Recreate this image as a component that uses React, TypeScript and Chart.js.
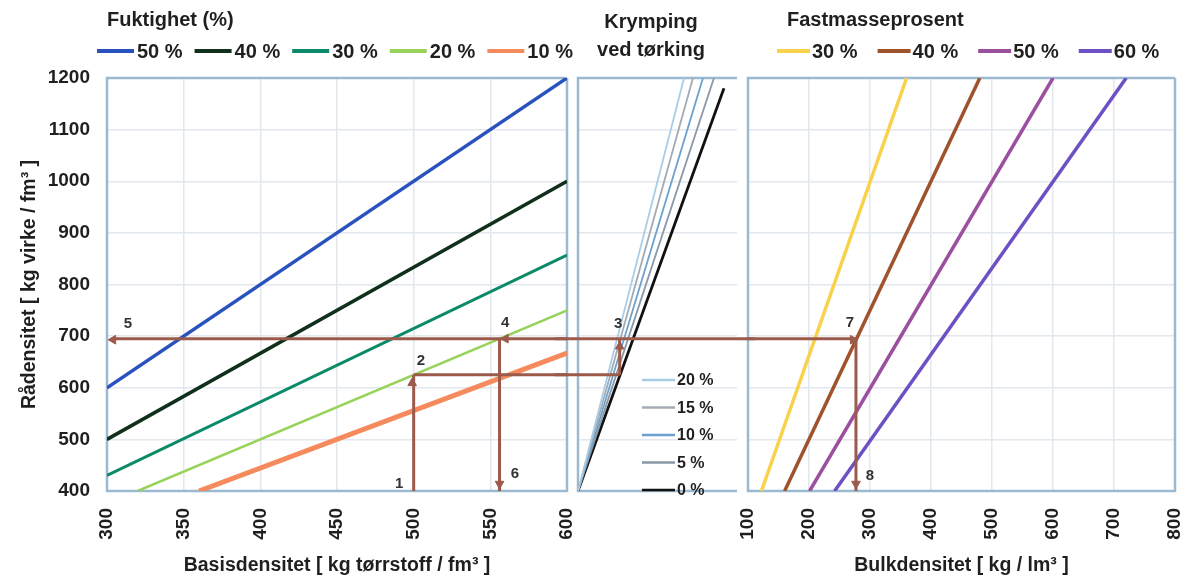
import React, { useEffect, useRef } from "react";
import { Chart, registerables } from "chart.js";

Chart.register(...registerables);

// ---------------- data ----------------
// Left panel: Rådensitet vs Basisdensitet, one line per moisture content
const basisTicksMin = 300;
const basisTicksMax = 600;
const raMin = 400;
const raMax = 1200;
const moistureLabels = ["50 %", "40 %", "30 %", "20 %", "10 %"];
const moistureStartX = [300, 300, 300, 320, 360];
const moistureStartY = [600, 500, 430, 400, 400];
const moistureEndX = [600, 600, 600, 600, 600];
const moistureEndY = [1200, 1000, 857, 750, 667];

// Middle panel: shrinkage on drying (relative units on x)
const shrinkLabels = ["20 %", "15 %", "10 %", "5 %", "0 %"];
const shrinkStartX = [0, 0, 0, 0, 0];
const shrinkStartY = [400, 400, 400, 400, 400];
const shrinkEndX = [66.7, 72.3, 78.6, 85.5, 91.8];
const shrinkEndY = [1200, 1200, 1200, 1200, 1180];

// Right panel: Bulkdensitet per solid-volume percentage
const bulkMin = 100;
const bulkMax = 800;
const massLabels = ["30 %", "40 %", "50 %", "60 %"];
const massStartX = [122, 160, 201, 242];
const massStartY = [400, 400, 400, 400];
const massEndX = [360, 480, 600, 720];
const massEndY = [1200, 1200, 1200, 1200];

// Worked example path (segments)
const pathLeftX = [[500, 500], [500, 600], [304, 600], [556, 556]];
const pathLeftY = [[400, 625], [625, 625], [695, 695], [695, 400]];
const pathMidX = [[-15, 26.2], [26.2, 26.2], [-15, 115]];
const pathMidY = [[625, 625], [625, 695], [695, 695]];
const pathRightX = [[100, 277], [277, 277]];
const pathRightY = [[695, 695], [695, 400]];

// Arrow heads (rotation in degrees: 0 up, 90 right, 180 down, -90 left)
const headLeftX = [499, 304, 560, 556];
const headLeftY = [609, 693, 695, 414];
const headLeftRot = [0, -90, -90, 180];
const headMidX = [26.2];
const headMidY = [680];
const headMidRot = [0];
const headRightX = [272, 277];
const headRightY = [693, 414];
const headRightRot = [90, 180];

// Step numbers
const stepLeftText = ["1", "2", "4", "5", "6"];
const stepLeftX = [490.5, 504.8, 559.6, 313.7, 566];
const stepLeftY = [414, 652, 725, 723, 433];
const stepMidText = ["3"];
const stepMidX = [25.2];
const stepMidY = [723];
const stepRightText = ["7", "8"];
const stepRightX = [267, 300];
const stepRightY = [725, 429];

// ---------------- styles ----------------
const FONT_FAMILY = "'Liberation Sans', Arial, Helvetica, sans-serif";
const TEXT_COLOR = "#1f1f1f";
const GRID_COLOR = "#e2e8ee";
const FRAME_COLOR = "#9bbad1";
const ARROW_COLOR = "#9c5a4b";
const moistureColors = ["#2a52be", "#10301c", "#0b8a6a", "#97d35a", "#f58a5c"];
const moistureWidths = [3.5, 3.5, 3, 2.5, 5];
const shrinkColors = ["#a9cde6", "#a3aab3", "#6aa1cf", "#8a98a8", "#111111"];
const shrinkWidths = [1.8, 1.8, 1.8, 1.8, 2.8];
const massColors = ["#f9d24c", "#a0522d", "#9b4f9f", "#6c50c4"];
const massWidths = [3.5, 3.5, 3.5, 3.5];

const H = 581;

function pts(xs: number[], ys: number[]) {
  return xs.map((x, i) => ({ x, y: ys[i] }));
}

function seriesSets(labels: string[], sx: number[], sy: number[], ex: number[], ey: number[], colors: string[], widths: number[]) {
  return labels.map((label, i) => ({
    label,
    data: [{ x: sx[i], y: sy[i] }, { x: ex[i], y: ey[i] }],
    showLine: true,
    borderColor: colors[i],
    backgroundColor: colors[i],
    borderWidth: widths[i],
    pointRadius: 0,
    pointHoverRadius: 0,
    order: 2,
  }));
}

function pathSets(xs: number[][], ys: number[][]) {
  return xs.map((x, i) => ({
    label: "",
    data: pts(x, ys[i]),
    showLine: true,
    borderColor: ARROW_COLOR,
    backgroundColor: ARROW_COLOR,
    borderWidth: 3,
    pointRadius: 0,
    pointHoverRadius: 0,
    order: 1,
    clip: false,
  }));
}

function headSet(xs: number[], ys: number[], rot: number[]) {
  return {
    label: "",
    data: pts(xs, ys),
    showLine: false,
    pointStyle: "triangle",
    pointRadius: 5,
    pointHoverRadius: 5,
    pointRotation: rot,
    backgroundColor: ARROW_COLOR,
    borderColor: ARROW_COLOR,
    borderWidth: 1,
    order: 0,
    clip: false,
  };
}

const framePlugin = {
  id: "panelFrame",
  beforeDatasetsDraw(chart: any, _args: any, o: any) {
    const { ctx, chartArea: a } = chart;
    ctx.save();
    ctx.strokeStyle = FRAME_COLOR;
    ctx.lineWidth = 2.5;
    ctx.beginPath();
    ctx.moveTo(a.right, a.top);
    ctx.lineTo(a.left, a.top);
    ctx.lineTo(a.left, a.bottom);
    ctx.lineTo(a.right, a.bottom);
    if (!(o && o.openRight)) ctx.lineTo(a.right, a.top);
    ctx.stroke();
    ctx.restore();
  },
};

const panelLegendPlugin = {
  id: "panelLegend",
  afterDraw(chart: any, _args: any, o: any) {
    if (!o || !o.titles) return;
    const { ctx, chartArea: a } = chart;
    ctx.save();
    ctx.fillStyle = TEXT_COLOR;
    ctx.textBaseline = "middle";
    ctx.font = `bold ${o.titleSize}px ${FONT_FAMILY}`;
    ctx.textAlign = o.titleAlign;
    o.titles.forEach((t: string, i: number) => {
      ctx.fillText(t, a.left + o.titleDX, o.titleY + i * o.titleLineH);
    });
    ctx.font = `bold ${o.labelSize}px ${FONT_FAMILY}`;
    ctx.textAlign = "left";
    let x = a.left + o.itemDX;
    let y = o.vertical ? a.top + o.itemDY : o.itemDY;
    for (let i = 0; i < o.count; i++) {
      const ds = chart.data.datasets[i];
      ctx.strokeStyle = ds.borderColor;
      ctx.lineWidth = o.swatchWidth;
      ctx.beginPath();
      ctx.moveTo(x, y);
      ctx.lineTo(x + o.lineLen, y);
      ctx.stroke();
      ctx.fillStyle = TEXT_COLOR;
      ctx.fillText(ds.label, x + o.lineLen + o.textGap, y + 1);
      if (o.vertical) y += o.itemStep;
      else x += o.lineLen + o.textGap + ctx.measureText(ds.label).width + o.itemGap;
    }
    ctx.restore();
  },
};

const stepLabelPlugin = {
  id: "stepLabels",
  afterDatasetsDraw(chart: any, _args: any, o: any) {
    if (!o || !o.texts) return;
    const { ctx, scales } = chart;
    ctx.save();
    ctx.font = `bold 15px ${FONT_FAMILY}`;
    ctx.fillStyle = "#333333";
    ctx.textAlign = "center";
    ctx.textBaseline = "middle";
    o.texts.forEach((t: string, i: number) => {
      ctx.fillText(t, scales.x.getPixelForValue(o.xs[i]), scales.y.getPixelForValue(o.ys[i]));
    });
    ctx.restore();
  },
};

const tickFont = { family: FONT_FAMILY, size: 19, weight: "bold" as const };
const titleFont = { family: FONT_FAMILY, size: 19.5, weight: "bold" as const };

function zeroPad(s: any) {
  s.paddingLeft = 0;
  s.paddingRight = 0;
  s.paddingTop = 0;
  s.paddingBottom = 0;
}

function xScale(min: number, max: number, step: number, showTicks: boolean, showGrid: boolean, title: string) {
  return {
    type: "linear",
    min,
    max,
    ticks: {
      display: showTicks,
      stepSize: step,
      autoSkip: false,
      minRotation: 90,
      maxRotation: 90,
      padding: 17,
      font: tickFont,
      color: TEXT_COLOR,
      callback: (v: any) => String(v),
    },
    grid: { display: showGrid, color: GRID_COLOR, lineWidth: 1.5, drawTicks: false },
    border: { display: false },
    title: {
      display: !!title,
      text: title,
      font: titleFont,
      color: TEXT_COLOR,
      padding: { top: 0, bottom: 4 },
    },
    afterFit: (s: any) => {
      s.height = 90;
      zeroPad(s);
    },
  };
}

function yScale(width: number, showTicks: boolean, title: string) {
  return {
    type: "linear",
    min: raMin,
    max: raMax,
    ticks: {
      display: showTicks,
      stepSize: 100,
      padding: 17,
      font: tickFont,
      color: TEXT_COLOR,
      callback: (v: any) => String(v),
    },
    grid: { color: GRID_COLOR, lineWidth: 1.5, drawTicks: false },
    border: { display: false },
    title: {
      display: !!title,
      text: title,
      font: titleFont,
      color: TEXT_COLOR,
      padding: { top: 18, bottom: 0 },
    },
    afterFit: (s: any) => {
      s.width = width;
      zeroPad(s);
    },
  };
}

function leftConfig(): any {
  return {
    type: "scatter",
    data: {
      datasets: [
        ...seriesSets(moistureLabels, moistureStartX, moistureStartY, moistureEndX, moistureEndY, moistureColors, moistureWidths),
        ...pathSets(pathLeftX, pathLeftY),
        headSet(headLeftX, headLeftY, headLeftRot),
      ],
    },
    options: {
      animation: false,
      responsive: false,
      devicePixelRatio: 1,
      events: [],
      layout: { padding: { top: 78, right: 33, bottom: 0, left: 0 } },
      plugins: {
        legend: { display: false },
        tooltip: { enabled: false },
        panelFrame: { openRight: false },
        panelLegend: {
          titles: ["Fuktighet (%)"],
          titleSize: 20,
          titleAlign: "left",
          titleDX: 0,
          titleY: 20,
          titleLineH: 28,
          labelSize: 20,
          vertical: false,
          itemDX: -10,
          itemDY: 51,
          count: moistureLabels.length,
          lineLen: 37,
          textGap: 3,
          itemGap: 12,
          swatchWidth: 4,
        },
        stepLabels: { texts: stepLeftText, xs: stepLeftX, ys: stepLeftY },
      },
      scales: {
        x: xScale(basisTicksMin, basisTicksMax, 50, true, true, "Basisdensitet [ kg tørrstoff / fm³ ]"),
        y: yScale(107, true, "Rådensitet [ kg virke / fm³ ]"),
      },
    },
    plugins: [framePlugin, panelLegendPlugin, stepLabelPlugin],
  };
}

function middleConfig(): any {
  return {
    type: "scatter",
    data: {
      datasets: [
        ...seriesSets(shrinkLabels, shrinkStartX, shrinkStartY, shrinkEndX, shrinkEndY, shrinkColors, shrinkWidths),
        ...pathSets(pathMidX, pathMidY),
        headSet(headMidX, headMidY, headMidRot),
      ],
    },
    options: {
      animation: false,
      responsive: false,
      devicePixelRatio: 1,
      events: [],
      layout: { padding: { top: 78, right: 18, bottom: 0, left: 0 } },
      plugins: {
        legend: { display: false },
        tooltip: { enabled: false },
        panelFrame: { openRight: true },
        panelLegend: {
          titles: ["Krymping", "ved tørking"],
          titleSize: 20,
          titleAlign: "center",
          titleDX: 73,
          titleY: 22,
          titleLineH: 28,
          labelSize: 16,
          vertical: true,
          itemDX: 64,
          itemDY: 302,
          itemStep: 27.5,
          count: shrinkLabels.length,
          lineLen: 33,
          textGap: 2,
          itemGap: 0,
          swatchWidth: 2.5,
        },
        stepLabels: { texts: stepMidText, xs: stepMidX, ys: stepMidY },
      },
      scales: {
        x: xScale(0, 100, 20, false, false, ""),
        y: yScale(23, false, ""),
      },
    },
    plugins: [framePlugin, panelLegendPlugin, stepLabelPlugin],
  };
}

function rightConfig(): any {
  return {
    type: "scatter",
    data: {
      datasets: [
        ...seriesSets(massLabels, massStartX, massStartY, massEndX, massEndY, massColors, massWidths),
        ...pathSets(pathRightX, pathRightY),
        headSet(headRightX, headRightY, headRightRot),
      ],
    },
    options: {
      animation: false,
      responsive: false,
      devicePixelRatio: 1,
      events: [],
      layout: { padding: { top: 78, right: 10, bottom: 0, left: 0 } },
      plugins: {
        legend: { display: false },
        tooltip: { enabled: false },
        panelFrame: { openRight: false },
        panelLegend: {
          titles: ["Fastmasseprosent"],
          titleSize: 20,
          titleAlign: "left",
          titleDX: 39,
          titleY: 20,
          titleLineH: 28,
          labelSize: 20,
          vertical: false,
          itemDX: 29,
          itemDY: 51,
          count: massLabels.length,
          lineLen: 33,
          textGap: 2,
          itemGap: 20,
          swatchWidth: 4,
        },
        stepLabels: { texts: stepRightText, xs: stepRightX, ys: stepRightY },
      },
      scales: {
        x: xScale(bulkMin, bulkMax, 100, true, true, "Bulkdensitet [ kg / lm³ ]"),
        y: yScale(8, false, ""),
      },
    },
    plugins: [framePlugin, panelLegendPlugin, stepLabelPlugin],
  };
}

function Panel({ left, width, make }: { left: number; width: number; make: () => any }) {
  const ref = useRef<HTMLCanvasElement>(null);
  useEffect(() => {
    if (!ref.current) return;
    const chart = new Chart(ref.current, make());
    return () => chart.destroy();
  }, []);
  return (
    <canvas
      ref={ref}
      width={width}
      height={H}
      style={{ position: "absolute", left, top: 0, width, height: H }}
    />
  );
}

export default function App() {
  return (
    <div
      style={{
        position: "fixed",
        left: 0,
        top: 0,
        width: 1185,
        height: H,
        background: "#ffffff",
        overflow: "hidden",
      }}
    >
      <Panel left={0} width={600} make={leftConfig} />
      <Panel left={740} width={445} make={rightConfig} />
      <Panel left={555} width={200} make={middleConfig} />
    </div>
  );
}
